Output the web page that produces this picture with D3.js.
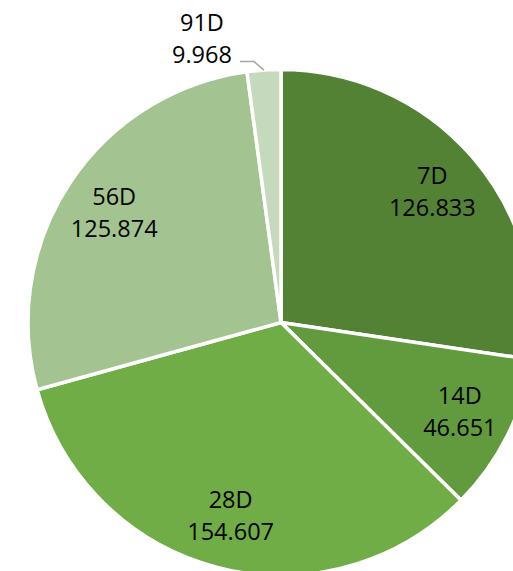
<!DOCTYPE html>
<html>
<head>
<meta charset="utf-8">
<script src="https://cdn.jsdelivr.net/npm/d3@7"></script>
<style>
  html, body { margin: 0; padding: 0; background: #ffffff; overflow: hidden; }
  svg { display: block; }
  text { font-family: "Open Sans", "Noto Sans", sans-serif; fill: #000000; }
</style>
</head>
<body>
<div id="chart"></div>
<script>
const categories = ["7D", "14D", "28D", "56D", "91D"];
const values = [126.833, 46.651, 154.607, 125.874, 9.968];
const valueLabels = ["126.833", "46.651", "154.607", "125.874", "9.968"];
const colors = ["#548235", "#629B3E", "#70AD47", "#A3C491", "#C5D9BC"];

const width = 513, height = 571;
const cx = 281, cy = 322.5, radius = 253;
const fontSize = 23.5;

const svg = d3.select("#chart").append("svg")
  .attr("width", width).attr("height", height)
  .attr("viewBox", [0, 0, width, height]);

const data = categories.map((c, i) => ({ cat: c, value: values[i], label: valueLabels[i], color: colors[i] }));

const pie = d3.pie().sort(null).value(d => d.value).startAngle(0).endAngle(2 * Math.PI);
const arcs = pie(data);
const total = d3.sum(values);

const arc = d3.arc().innerRadius(0).outerRadius(radius);
const labelArc = d3.arc().innerRadius(radius * 0.79).outerRadius(radius * 0.79);

const g = svg.append("g").attr("transform", `translate(${cx},${cy})`);

g.selectAll("path.slice")
  .data(arcs)
  .join("path")
  .attr("class", "slice")
  .attr("d", arc)
  .attr("fill", d => d.data.color)
  .attr("stroke", "#ffffff")
  .attr("stroke-width", 3.5)
  .attr("stroke-linejoin", "round");

const inside = arcs.filter(d => d.data.value / total >= 0.05);
const outside = arcs.filter(d => d.data.value / total < 0.05);

// inside labels
inside.forEach(d => {
  const [x, y] = labelArc.centroid(d);
  const t = g.append("text").attr("text-anchor", "middle").attr("font-size", fontSize);
  t.append("tspan").attr("x", x).attr("y", y - 7.5).text(d.data.cat);
  t.append("tspan").attr("x", x).attr("y", y + 24.5).text(d.data.label);
});

// outside labels with leader line
outside.forEach(d => {
  const mid = (d.startAngle + d.endAngle) / 2;
  const ex = radius * Math.sin(mid), ey = -radius * Math.cos(mid);
  const elbow = [ex - 10, ey - 8.5];
  const end = [elbow[0] - 14, elbow[1]];
  g.append("polyline")
    .attr("points", [[ex, ey], elbow, end].map(p => p.join(",")).join(" "))
    .attr("fill", "none")
    .attr("stroke", "#A6A6A6")
    .attr("stroke-width", 1.5);
  const tx = end[0] - 38;
  const t = g.append("text").attr("text-anchor", "middle").attr("font-size", fontSize);
  t.append("tspan").attr("x", tx).attr("y", end[1] - 30.5).text(d.data.cat);
  t.append("tspan").attr("x", tx).attr("y", end[1] + 1.5).text(d.data.label);
});
</script>
</body>
</html>
